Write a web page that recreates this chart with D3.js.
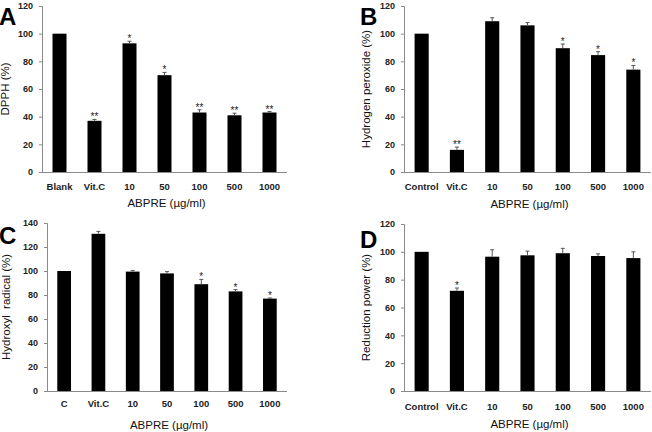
<!DOCTYPE html>
<html>
<head>
<meta charset="utf-8">
<script src="https://cdn.jsdelivr.net/npm/d3@7"></script>
<style>
  body { margin: 0; background: #fff; }
  svg { display: block; font-family: "Liberation Sans", Arial, sans-serif; }
</style>
</head>
<body>
<div id="chart"></div>
<script>
const width = 652;
const height = 432;

// categories
const groupsA = ["Blank", "Vit.C", "10", "50", "100", "500", "1000"];
const groupsB = ["Control", "Vit.C", "10", "50", "100", "500", "1000"];
const groupsC = ["C", "Vit.C", "10", "50", "100", "500", "1000"];
const groupsD = ["Control", "Vit.C", "10", "50", "100", "500", "1000"];

// values (%) and upper error
const dpphValues = [100, 37, 93, 70, 43, 41, 43];
const dpphErrors = [0, 1, 1.5, 2, 2, 1.5, 0.7];
const dpphStars = ["", "**", "*", "*", "**", "**", "**"];

const h2o2Values = [100, 16, 109, 106, 89.5, 84.5, 74];
const h2o2Errors = [0, 2, 2.5, 2, 3, 2.5, 3];
const h2o2Stars = ["", "**", "", "", "*", "*", "*"];

const hydroxylValues = [100, 131, 99.5, 98, 89, 83, 77];
const hydroxylErrors = [0, 2, 1, 1.5, 4, 1.5, 0.5];
const hydroxylStars = ["", "", "", "", "*", "*", "*"];

const reductionValues = [100, 72, 96.5, 97.5, 99, 97, 95.5];
const reductionErrors = [0, 2, 5, 3, 3.5, 1.5, 4.5];
const reductionStars = ["", "*", "", "", "", "", ""];

const yTicks120 = [0, 20, 40, 60, 80, 100, 120];
const yTicks140 = [0, 20, 40, 60, 80, 100, 120, 140];

const xTitle = "ABPRE (\u00b5g/ml)";

const panels = [
  { letter: "A", groups: groupsA, values: dpphValues, errors: dpphErrors, stars: dpphStars,
    yLabel: "DPPH (%)", ticks: yTicks120, yMax: 120,
    x0: 42, x1: 287, yBottom: 172, yTop: 6, yLabelX: 5, letterX: -1, letterY: 25, tickY: 190, titleY: 207 },
  { letter: "B", groups: groupsB, values: h2o2Values, errors: h2o2Errors, stars: h2o2Stars,
    yLabel: "Hydrogen peroxide (%)", ticks: yTicks120, yMax: 120,
    x0: 404, x1: 651, yBottom: 172, yTop: 6, yLabelX: 366, letterX: 360, letterY: 25, tickY: 190, titleY: 208 },
  { letter: "C", groups: groupsC, values: hydroxylValues, errors: hydroxylErrors, stars: hydroxylStars,
    yLabel: "Hydroxyl  radical (%)", ticks: yTicks140, yMax: 140,
    x0: 47, x1: 287, yBottom: 391, yTop: 223, yLabelX: 6, letterX: -1, letterY: 244, tickY: 407, titleY: 429 },
  { letter: "D", groups: groupsD, values: reductionValues, errors: reductionErrors, stars: reductionStars,
    yLabel: "Reduction power (%)", ticks: yTicks120, yMax: 120,
    x0: 404, x1: 651, yBottom: 391, yTop: 224, yLabelX: 366, letterX: 360, letterY: 248, tickY: 410, titleY: 428 }
];

const svg = d3.create("svg")
    .attr("width", width)
    .attr("height", height);

panels.forEach(p => {
    const data = p.groups.map((g, i) => ({ group: g, value: p.values[i], err: p.errors[i], star: p.stars[i] }));

    const xScale = d3.scaleBand()
        .domain(p.groups)
        .range([p.x0, p.x1])
        .paddingInner(0.6)
        .paddingOuter(0.3);

    const yScale = d3.scaleLinear()
        .domain([0, p.yMax])
        .range([p.yBottom, p.yTop]);

    const g = svg.append("g");

    // y axis
    const yAxis = g.append("g")
        .attr("transform", `translate(${p.x0},0)`)
        .call(d3.axisLeft(yScale).tickValues(p.ticks).tickSize(3).tickPadding(6));
    yAxis.select(".domain").attr("stroke", "#8a8a8a");
    yAxis.selectAll(".tick line").attr("stroke", "#8a8a8a");
    yAxis.selectAll(".tick text")
        .attr("fill", "#222")
        .style("font-size", "9px")
        .style("font-weight", "bold");

    // x axis line
    g.append("line")
        .attr("x1", p.x0)
        .attr("x2", p.x1)
        .attr("y1", p.yBottom + 0.5)
        .attr("y2", p.yBottom + 0.5)
        .attr("stroke", "#8a8a8a");

    // bars
    g.selectAll(".bar")
        .data(data)
        .enter()
        .append("rect")
        .attr("x", d => xScale(d.group))
        .attr("y", d => yScale(d.value))
        .attr("width", xScale.bandwidth())
        .attr("height", d => yScale(0) - yScale(d.value))
        .attr("fill", "#000");

    // error bars (upper only)
    const errData = data.filter(d => d.err > 0);
    g.selectAll(".err")
        .data(errData)
        .enter()
        .append("line")
        .attr("x1", d => xScale(d.group) + xScale.bandwidth() / 2)
        .attr("x2", d => xScale(d.group) + xScale.bandwidth() / 2)
        .attr("y1", d => yScale(d.value))
        .attr("y2", d => yScale(d.value + d.err))
        .attr("stroke", "#555")
        .attr("stroke-width", 1);
    g.selectAll(".cap")
        .data(errData)
        .enter()
        .append("line")
        .attr("x1", d => xScale(d.group) + xScale.bandwidth() / 2 - 2)
        .attr("x2", d => xScale(d.group) + xScale.bandwidth() / 2 + 2)
        .attr("y1", d => yScale(d.value + d.err))
        .attr("y2", d => yScale(d.value + d.err))
        .attr("stroke", "#555")
        .attr("stroke-width", 1);

    // significance stars
    g.selectAll(".star")
        .data(data.filter(d => d.star))
        .enter()
        .append("text")
        .attr("x", d => xScale(d.group) + xScale.bandwidth() / 2)
        .attr("y", d => yScale(d.value + d.err) + 1)
        .attr("text-anchor", "middle")
        .style("font-size", "10px")
        .attr("fill", "#222")
        .text(d => d.star);

    // x tick labels
    g.selectAll(".xlab")
        .data(p.groups)
        .enter()
        .append("text")
        .attr("x", d => xScale(d) + xScale.bandwidth() / 2)
        .attr("y", p.tickY)
        .attr("text-anchor", "middle")
        .style("font-size", "9.5px")
        .style("font-weight", "bold")
        .attr("fill", "#222")
        .text(d => d);

    // x title
    g.append("text")
        .attr("x", (p.x0 + p.x1) / 2 + 2)
        .attr("y", p.titleY)
        .attr("text-anchor", "middle")
        .style("font-size", "11.5px")
        .attr("fill", "#111")
        .text(xTitle);

    // y title
    g.append("text")
        .attr("transform", `translate(${p.yLabelX + 4},${(p.yBottom + p.yTop) / 2}) rotate(-90)`)
        .attr("text-anchor", "middle")
        .style("font-size", "11.5px")
        .attr("fill", "#111")
        .style("white-space", "pre")
        .text(p.yLabel);

    // panel letter
    g.append("text")
        .attr("x", p.letterX)
        .attr("y", p.letterY)
        .style("font-size", "24px")
        .style("font-weight", "bold")
        .attr("fill", "#000")
        .text(p.letter);
});

d3.select("#chart").append(() => svg.node());
</script>
</body>
</html>
